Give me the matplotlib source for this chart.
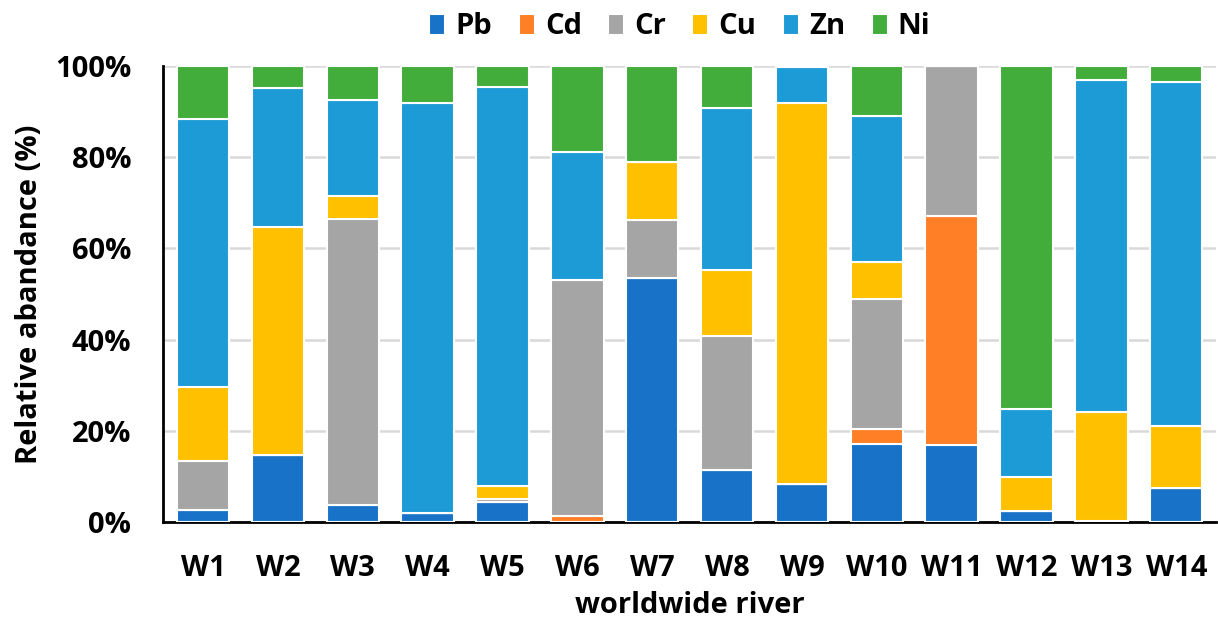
import matplotlib.pyplot as plt
import numpy as np
from matplotlib.ticker import PercentFormatter

plt.rcParams['font.family'] = ['Open Sans', 'DejaVu Sans']
plt.rcParams['font.weight'] = 'bold'

rivers = ["W1", "W2", "W3", "W4", "W5", "W6", "W7",
          "W8", "W9", "W10", "W11", "W12", "W13", "W14"]

# relative abundance of each metal (%)
pb = [2.7, 14.8, 3.8, 2.0, 4.3, 0.0, 53.5, 11.5, 8.3, 17.2, 16.8, 2.5, 0.3, 7.5]
cd = [0.0, 0.0, 0.0, 0.0, 0.0, 1.4, 0.0, 0.0, 0.0, 3.3, 50.2, 0.0, 0.0, 0.0]
cr = [10.7, 0.0, 62.6, 0.0, 0.7, 51.6, 12.8, 29.4, 0.0, 28.4, 33.0, 0.0, 0.0, 0.0]
cu = [16.3, 49.9, 5.0, 0.0, 3.0, 0.0, 12.7, 14.4, 83.5, 8.1, 0.0, 7.3, 23.9, 13.5]
zn = [58.6, 30.5, 21.2, 89.8, 87.3, 28.1, 0.0, 35.6, 7.9, 32.0, 0.0, 15.0, 72.8, 75.5]
ni = [11.7, 4.8, 7.4, 8.2, 4.7, 18.9, 21.0, 9.1, 0.3, 11.0, 0.0, 75.2, 3.0, 3.5]

metals = ["Pb", "Cd", "Cr", "Cu", "Zn", "Ni"]
colors = ["#1872C8", "#FF7F27", "#A5A5A5", "#FFC000", "#1C9BD7", "#43AD3B"]

data = np.array([pb, cd, cr, cu, zn, ni])
data = data / data.sum(axis=0)

fig = plt.figure(figsize=(12.18, 6.21), dpi=100)
ax = fig.add_axes([0.1338, 0.1594, 0.8645, 0.7343])

x = np.arange(len(rivers))
bottom = np.zeros(len(rivers))
for vals, name, col in zip(data, metals, colors):
    ax.bar(x, vals, 0.7, bottom=bottom, color=col, edgecolor="white",
           linewidth=1.5, label=name, zorder=3)
    bottom += vals

ax.set_xlim(-0.535, len(rivers) - 0.47)
ax.set_ylim(0, 1)
ax.set_yticks(np.arange(0, 1.01, 0.2))
ax.yaxis.set_major_formatter(PercentFormatter(1.0, decimals=0))
ax.set_xticks(x)
ax.set_xticklabels(rivers)
ax.tick_params(axis="both", length=0, labelsize=21)
ax.tick_params(axis="y", pad=23)
ax.tick_params(axis="x", pad=23)

ax.grid(axis="y", color="#d9d9d9", linewidth=1.8, zorder=0)
for side in ["top", "right"]:
    ax.spines[side].set_visible(False)
for side in ["left", "bottom"]:
    ax.spines[side].set_linewidth(2)
    ax.spines[side].set_color("black")

ax.set_ylabel("Relative abandance (%)", fontsize=21, fontweight="bold", labelpad=8)
ax.set_xlabel("worldwide river", fontsize=21, fontweight="bold", labelpad=6)

ax.legend(loc="upper center", bbox_to_anchor=(0.491, 1.175), ncol=6,
          frameon=False, fontsize=21, handlelength=0.55, handleheight=0.75,
          handletextpad=0.35, columnspacing=0.9)

fig.savefig("out.png", dpi=100)
